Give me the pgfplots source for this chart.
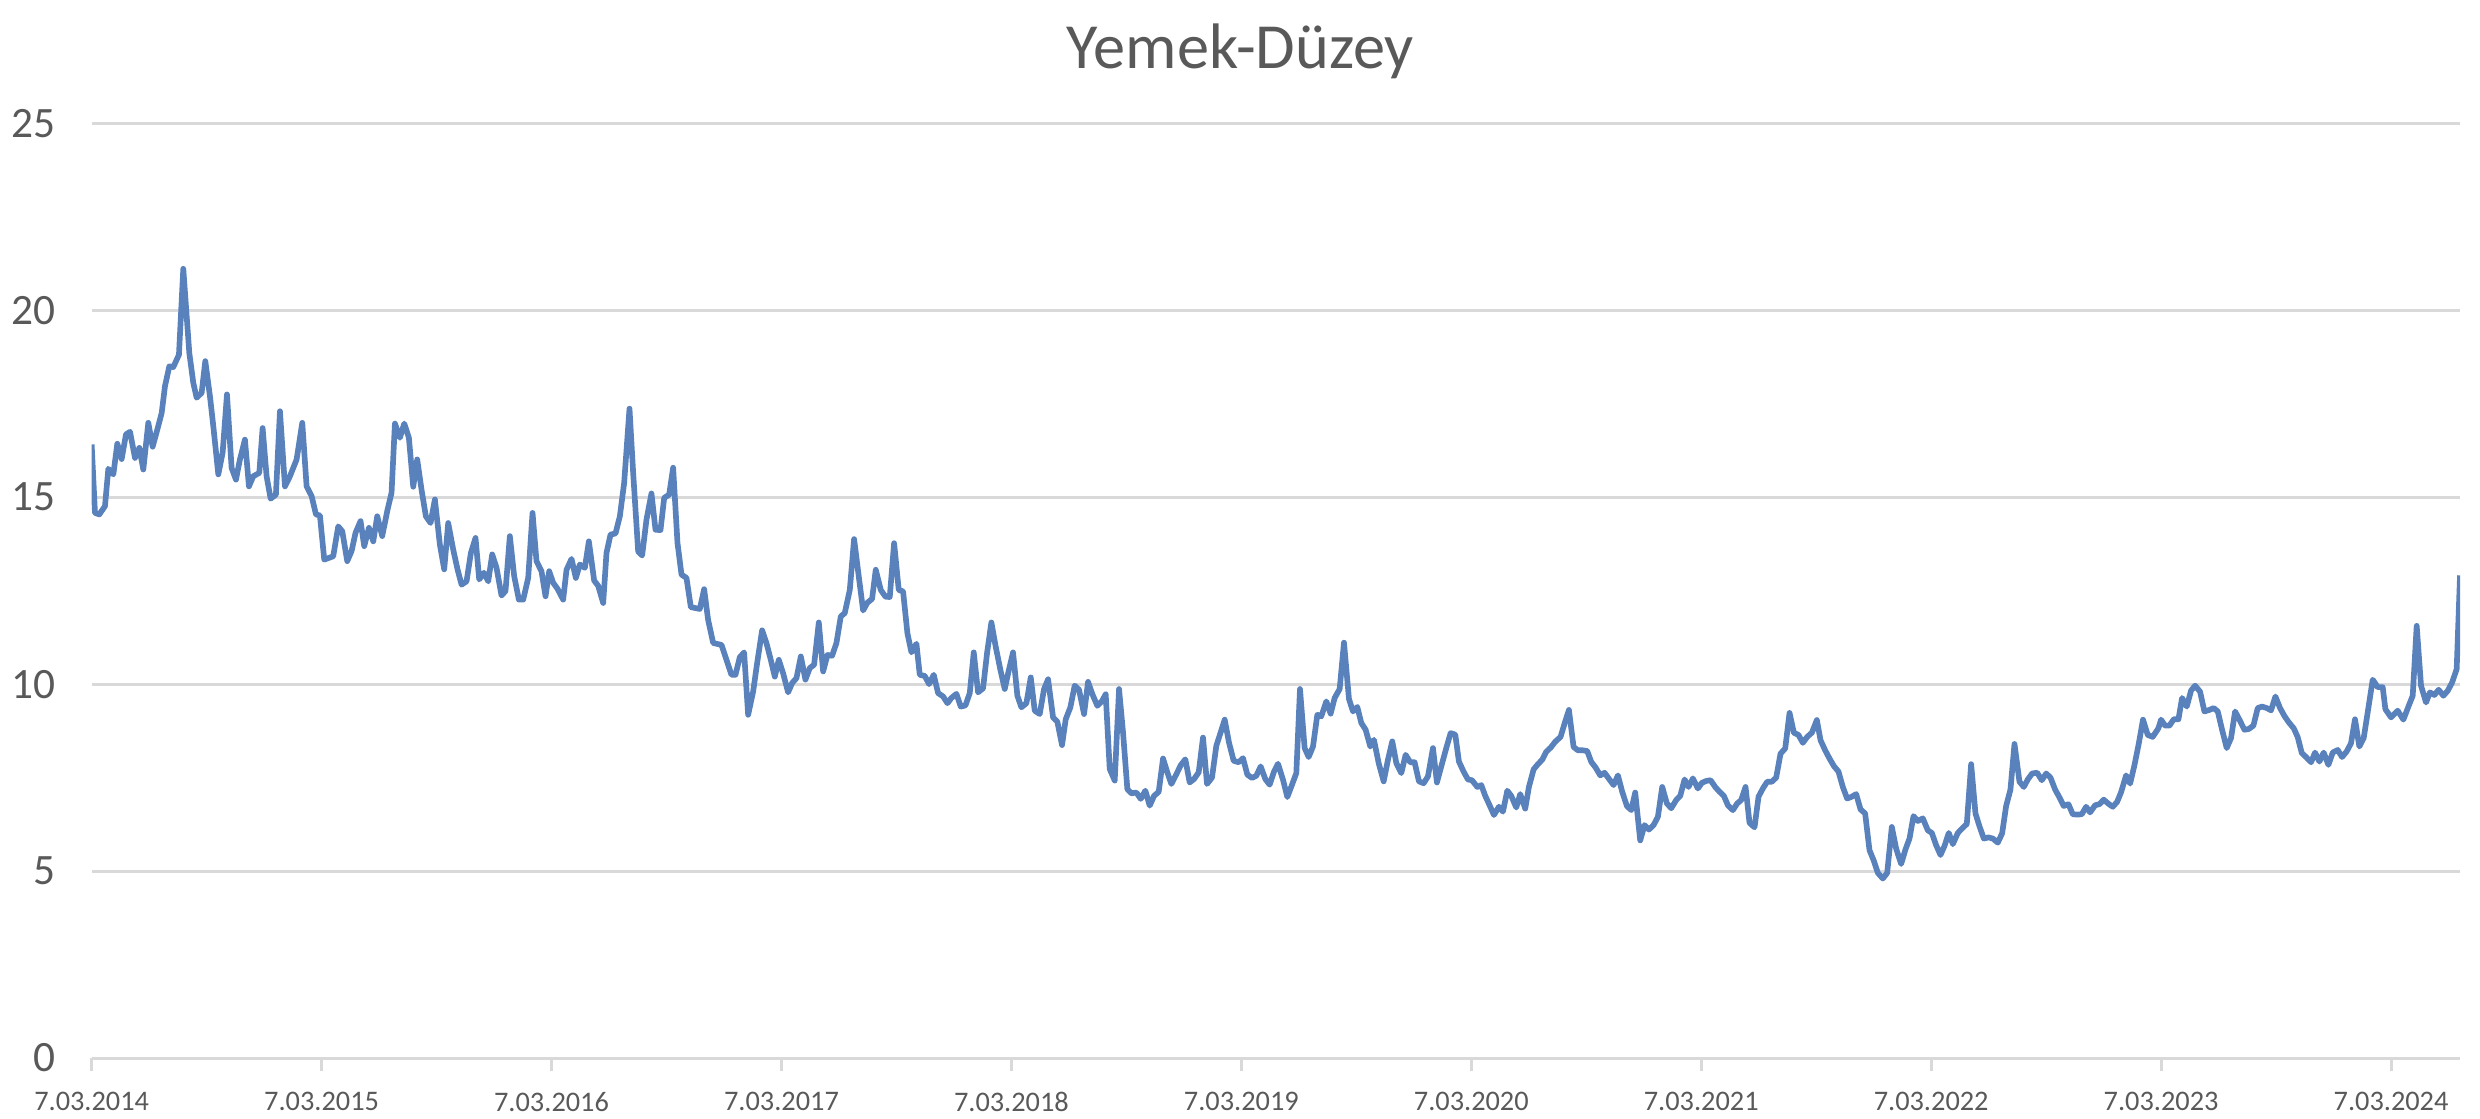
\documentclass[border=0pt]{standalone}
\usepackage{pgfplots}
\pgfplotsset{compat=1.18}
\usepackage{fontspec}
\setmainfont{Carlito}
\definecolor{linec}{RGB}{89,129,188}
\definecolor{gridc}{RGB}{217,217,217}
\definecolor{txt}{RGB}{89,89,89}
\pgfplotstableread{
w v
0 16.41
0.75 14.58
1.73 14.54
3.01 14.76
3.77 15.76
4.9 15.61
5.8 16.43
6.78 16.02
7.76 16.68
8.67 16.75
9.8 16.05
10.78 16.32
11.68 15.74
12.81 16.99
13.79 16.35
14.85 16.81
15.83 17.25
16.58 17.97
17.56 18.50
18.46 18.48
19.74 18.81
20.72 21.11
22.08 18.86
22.98 18.06
23.74 17.66
24.87 17.79
25.7 18.64
26.75 17.70
27.51 16.90
28.64 15.61
29.62 16.19
30.6 17.75
31.65 15.78
32.63 15.47
33.53 16.01
34.66 16.54
35.57 15.29
36.55 15.56
37.91 15.65
38.66 16.85
39.56 15.56
40.47 14.96
41.67 15.07
42.58 17.30
43.71 15.29
44.84 15.56
46.35 16.01
47.63 16.99
48.61 15.29
49.74 15.03
50.72 14.54
51.62 14.51
52.6 13.33
54.63 13.42
55.76 14.22
56.67 14.09
57.8 13.29
58.78 13.56
59.68 14.05
60.81 14.36
61.64 13.69
62.7 14.18
63.68 13.82
64.58 14.49
65.71 13.96
66.92 14.67
67.82 15.12
68.58 16.97
69.71 16.59
70.69 16.97
71.74 16.59
72.72 15.28
73.62 16.01
74.6 15.20
75.58 14.49
76.64 14.31
77.62 14.94
78.75 13.73
79.73 13.07
80.63 14.31
81.76 13.60
82.74 13.07
83.65 12.66
84.78 12.75
85.76 13.51
86.81 13.91
87.64 12.80
88.7 12.98
89.68 12.75
90.58 13.47
91.56 13.11
92.69 12.37
93.59 12.49
94.57 13.96
95.55 12.89
96.61 12.26
97.59 12.26
98.72 12.84
99.7 14.58
100.6 13.29
101.73 13.02
102.64 12.35
103.47 13.02
104.37 12.71
105.35 12.55
106.63 12.26
107.39 13.06
108.52 13.35
109.5 12.84
110.4 13.20
111.53 13.11
112.44 13.82
113.64 12.77
114.55 12.63
115.68 12.17
116.43 13.51
117.34 14.00
118.47 14.03
119.45 14.49
120.42 15.38
121.63 17.37
122.46 15.65
123.59 13.55
124.49 13.44
125.47 14.40
126.6 15.10
127.51 14.13
128.64 14.12
129.47 14.98
130.6 15.07
131.5 15.79
132.48 13.78
133.39 12.93
134.52 12.84
135.5 12.06
137.53 12.01
138.51 12.54
139.41 11.72
140.55 11.10
142.43 11.05
143.56 10.65
144.69 10.25
145.6 10.25
146.57 10.72
147.55 10.85
148.46 9.18
149.59 9.80
150.49 10.56
151.62 11.44
152.6 11.10
153.58 10.65
154.49 10.20
155.39 10.65
156.37 10.29
157.5 9.78
158.41 10.03
159.39 10.16
160.37 10.74
161.42 10.12
162.4 10.43
163.38 10.52
164.44 11.65
165.42 10.34
166.4 10.78
167.45 10.76
168.43 11.10
169.41 11.81
170.31 11.90
171.45 12.52
172.42 13.88
173.48 12.88
174.46 11.97
175.44 12.18
176.49 12.28
177.32 13.06
178.45 12.52
179.51 12.34
180.49 12.33
181.47 13.77
182.52 12.52
183.5 12.48
184.48 11.36
185.39 10.85
186.52 11.08
187.27 10.25
188.4 10.22
189.38 10.00
190.43 10.25
191.42 9.76
192.55 9.67
193.53 9.49
194.43 9.63
195.56 9.74
196.54 9.40
197.6 9.43
198.58 9.76
199.48 10.85
200.46 9.78
201.59 9.89
202.49 10.83
203.47 11.65
204.45 11.00
205.51 10.38
206.49 9.87
207.39 10.36
208.37 10.85
209.35 9.69
210.26 9.38
211.39 9.49
212.37 10.18
213.27 9.29
214.4 9.20
215.38 9.87
216.29 10.13
217.42 9.11
218.4 8.99
219.45 8.37
220.28 9.06
221.33 9.38
222.31 9.96
223.29 9.85
224.43 9.20
225.33 10.06
226.31 9.73
227.44 9.42
228.49 9.55
229.32 9.73
230.23 7.73
231.36 7.42
232.34 9.87
233.24 8.71
234.22 7.19
235.13 7.08
236.26 7.10
237.24 6.93
238.29 7.15
239.27 6.75
240.25 7.01
241.31 7.12
242.29 8.01
243.26 7.64
244.17 7.33
245.3 7.59
246.28 7.83
247.33 7.99
248.31 7.37
249.29 7.46
250.35 7.64
251.33 8.57
252.23 7.33
253.36 7.50
254.34 8.35
255.32 8.71
256.23 9.05
257.2 8.44
258.26 7.95
259.39 7.91
260.37 8.02
261.35 7.58
262.41 7.49
263.39 7.55
264.37 7.80
265.42 7.46
266.4 7.31
267.38 7.66
268.29 7.87
269.42 7.44
270.4 6.98
271.3 7.26
272.43 7.62
273.26 9.87
274.31 8.29
275.22 8.05
276.2 8.33
277.18 9.18
278.08 9.14
279.21 9.54
280.19 9.21
281.1 9.63
282.23 9.87
283.21 11.11
284.34 9.60
285.24 9.27
286.22 9.39
287.13 8.96
288.11 8.78
289.16 8.33
289.99 8.51
291.05 7.89
292.18 7.40
293.16 7.98
294.13 8.47
295.04 7.89
296.17 7.62
297.15 8.11
298.2 7.91
299.18 7.91
300.16 7.40
301.22 7.35
302.2 7.53
303.33 8.29
304.23 7.37
305.21 7.80
306.34 8.29
307.32 8.69
308.38 8.65
309.2 7.93
310.26 7.66
311.24 7.45
312.15 7.43
313.35 7.25
314.26 7.30
315.16 7.01
316.14 6.76
317.12 6.50
318.25 6.72
319.16 6.59
320.14 7.15
321.04 7.01
322.17 6.70
323.07 7.06
324.2 6.67
325.03 7.25
326.09 7.72
327.07 7.86
328.05 7.98
328.95 8.19
329.93 8.30
330.99 8.46
332.19 8.59
333.1 8.95
334.08 9.31
335.13 8.32
336.11 8.23
337.24 8.23
338.22 8.21
339.13 7.92
340.11 7.77
341.16 7.56
342.14 7.63
343.05 7.48
344.18 7.30
345.16 7.56
346.13 7.12
347.19 6.74
348.17 6.63
349.07 7.10
350.2 5.82
351.18 6.23
352.16 6.11
353.22 6.23
354.2 6.45
355.18 7.25
356.23 6.81
357.21 6.68
358.34 6.90
359.25 7.01
360.23 7.45
361.13 7.25
362.11 7.48
363.24 7.21
364.15 7.36
365.13 7.41
366.11 7.43
367.16 7.25
368.14 7.12
369.12 7.01
370.03 6.76
371.16 6.63
372.14 6.81
373.04 6.90
374.02 7.25
374.92 6.29
376.05 6.17
376.96 6.99
377.94 7.21
378.92 7.39
379.97 7.39
380.95 7.50
381.93 8.14
382.99 8.28
383.97 9.23
384.95 8.70
386.0 8.64
386.98 8.43
387.96 8.59
389.02 8.70
390.15 9.04
390.98 8.50
392.03 8.23
393.01 8.01
393.99 7.81
395.04 7.66
396.02 7.25
397.0 6.94
398.06 6.99
399.04 7.06
400.02 6.65
401.07 6.54
402.05 5.56
402.98 5.29
403.94 4.95
405.07 4.80
406.05 4.95
407.1 6.18
408.08 5.60
409.21 5.19
410.19 5.58
411.1 5.87
412.0 6.47
412.98 6.34
414.11 6.41
415.24 6.09
416.15 6.02
417.13 5.69
418.11 5.43
419.01 5.67
419.99 6.02
420.9 5.72
422.03 6.02
423.01 6.14
424.06 6.26
425.04 7.86
426.02 6.54
426.92 6.20
427.9 5.87
428.96 5.90
429.94 5.87
431.07 5.76
432.05 6.01
432.95 6.74
433.93 7.18
434.84 8.40
435.97 7.39
436.95 7.25
437.85 7.45
438.83 7.61
439.96 7.63
441.02 7.43
442.0 7.61
442.98 7.50
444.03 7.18
445.01 6.97
445.99 6.74
447.04 6.79
448.02 6.52
449.0 6.51
450.06 6.52
451.04 6.72
451.94 6.57
453.07 6.76
454.05 6.79
455.03 6.91
456.09 6.80
457.07 6.72
458.05 6.85
458.95 7.11
460.08 7.56
460.99 7.34
461.97 7.83
462.95 8.41
463.9 9.05
464.98 8.64
466.1 8.59
467.39 8.82
467.99 9.05
468.9 8.89
469.88 8.89
470.86 9.06
471.92 9.06
472.74 9.63
473.8 9.40
474.78 9.83
475.68 9.96
476.81 9.80
477.79 9.27
478.92 9.31
479.9 9.36
480.81 9.27
481.79 8.78
482.84 8.29
483.82 8.56
484.73 9.27
485.71 9.05
486.84 8.78
487.82 8.80
488.87 8.89
489.85 9.36
490.83 9.40
491.89 9.36
492.87 9.30
493.85 9.67
494.9 9.36
495.88 9.15
496.86 8.98
497.99 8.82
498.9 8.58
499.8 8.16
500.78 8.05
501.91 7.91
502.81 8.17
503.79 7.93
504.77 8.17
505.83 7.84
506.81 8.17
507.94 8.24
508.92 8.05
509.97 8.20
510.95 8.42
511.85 9.06
512.83 8.33
513.82 8.56
514.87 9.36
515.85 10.12
516.98 9.92
518.11 9.92
518.72 9.33
520.0 9.11
521.5 9.29
522.79 9.05
523.99 9.42
524.9 9.69
525.8 11.56
526.78 9.96
527.91 9.51
528.81 9.78
529.79 9.71
530.77 9.85
531.83 9.69
532.81 9.82
533.79 10.04
534.84 10.40
535.6 12.91
}\datatab
\begin{document}
\begin{tikzpicture}
\begin{axis}[
  scale only axis, width=710.5pt, height=280.4pt,
  at={(0,0)}, anchor=south west,
  xmin=0, xmax=535.6, ymin=0, ymax=25,
  xtick={0,52,104,156,208,260,312,364,416,468,520},
  xticklabels={7.03.2014,7.03.2015,7.03.2016,7.03.2017,7.03.2018,7.03.2019,7.03.2020,7.03.2021,7.03.2022,7.03.2023,7.03.2024},
  ytick={0,5,10,15,20,25},
  ymajorgrids, grid style={gridc, line width=0.9pt},
  axis x line*=bottom, axis y line*=left,
  x axis line style={gridc, line width=0.9pt, -},
  y axis line style={draw=none},
  ytick style={draw=none},
  xtick style={gridc, line width=0.9pt},
  tick align=outside, major tick length=4pt,
  xticklabel style={font=\fontsize{8.5}{10}\selectfont, text=txt, inner sep=0pt, anchor=north},
  xticklabel shift=6pt,
  yticklabel style={font=\fontsize{13}{15}\selectfont, text=txt, inner sep=0pt, anchor=east},
  yticklabel shift=6.7pt,
  /pgf/number format/assume math mode=true,
  title={Yemek-Düzey},
  title style={font=\fontsize{19.3}{23}\selectfont, text=txt, at={(axis description cs:0.485,1.0374)}, anchor=base, inner sep=0pt},
]
\addplot[linec, line width=1.7pt, line join=round] table[x=w, y=v] {\datatab};
\end{axis}
\path (-27.5pt,-18pt) rectangle (716.5pt,317.4pt);
\end{tikzpicture}
\end{document}
